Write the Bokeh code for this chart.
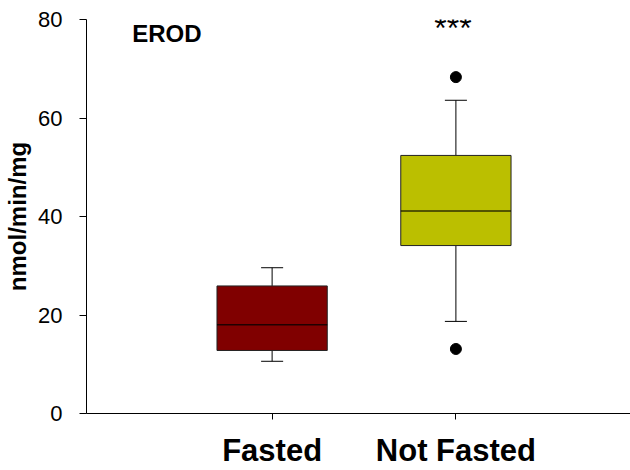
from bokeh.plotting import figure
from bokeh.models import FixedTicker, Range1d, Label
from bokeh.embed import file_html
from bokeh.resources import INLINE

# ---- data ----
categories = ["Fasted", "Not Fasted"]
whisker_low = [10.6, 18.7]
q1 = [12.8, 34.1]
median = [18.0, 41.1]
q3 = [25.9, 52.4]
whisker_high = [29.6, 63.6]
box_colors = ["#800000", "#BBBF00"]
outlier_group = ["Not Fasted", "Not Fasted"]
outlier_values = [68.3, 13.1]
y_ticks = [0, 20, 40, 60, 80]
panel_title = "EROD"
significance = "***"
significance_group = "Not Fasted"
y_label = "nmol/min/mg"

FONT = "Liberation Sans"
xs = [i + 1 for i in range(len(categories))]
pos = {c: x for c, x in zip(categories, xs)}

p = figure(width=630, height=470, output_backend="svg", toolbar_location=None,
           x_range=Range1d(-0.01, 2.95), y_range=Range1d(0, 80),
           min_border_left=86, min_border_right=0, min_border_top=19, min_border_bottom=55)
p.outline_line_color = None
p.xgrid.visible = False
p.ygrid.visible = False
p.background_fill_color = "white"
p.border_fill_color = "white"

bw = 0.3
cw = 0.06
# whiskers
p.segment(x0=xs, y0=whisker_low, x1=xs, y1=q1, line_color="black", line_width=1)
p.segment(x0=xs, y0=q3, x1=xs, y1=whisker_high, line_color="black", line_width=1)
p.segment(x0=[x - cw for x in xs], y0=whisker_low, x1=[x + cw for x in xs], y1=whisker_low,
          line_color="black", line_width=1)
p.segment(x0=[x - cw for x in xs], y0=whisker_high, x1=[x + cw for x in xs], y1=whisker_high,
          line_color="black", line_width=1)
# boxes
p.quad(left=[x - bw for x in xs], right=[x + bw for x in xs], bottom=q1, top=q3,
       fill_color=box_colors, line_color="#222222", line_width=1)
# medians
p.segment(x0=[x - bw for x in xs], y0=median, x1=[x + bw for x in xs], y1=median,
          line_color="black", line_width=1.5, line_alpha=0.75)
# outliers
p.scatter(x=[pos[g] for g in outlier_group], y=outlier_values, size=11,
          fill_color="black", line_color="black")

# axes
p.yaxis.ticker = FixedTicker(ticks=y_ticks)
p.yaxis.minor_tick_line_color = None
p.yaxis.major_tick_in = 0
p.yaxis.major_tick_out = 7
p.yaxis.major_label_standoff = 17
p.yaxis.major_label_text_font = FONT
p.yaxis.major_label_text_font_size = "22px"
p.yaxis.major_label_text_color = "black"
p.yaxis.axis_line_color = "black"
p.yaxis.major_tick_line_color = "black"
p.yaxis.axis_label = y_label
p.yaxis.axis_label_text_font = FONT
p.yaxis.axis_label_text_font_style = "bold"
p.yaxis.axis_label_text_font_size = "24px"
p.yaxis.axis_label_text_color = "black"
p.yaxis.axis_label_standoff = 4

p.xaxis.ticker = FixedTicker(ticks=xs)
p.xaxis.major_label_overrides = {x: c for x, c in zip(xs, categories)}
p.xaxis.minor_tick_line_color = None
p.xaxis.major_tick_in = 0
p.xaxis.major_tick_out = 6
p.xaxis.major_label_standoff = 13
p.xaxis.major_label_text_font = FONT
p.xaxis.major_label_text_font_style = "bold"
p.xaxis.major_label_text_font_size = "31px"
p.xaxis.major_label_text_color = "black"
p.xaxis.axis_line_color = "black"
p.xaxis.major_tick_line_color = "black"

p.add_layout(Label(x=0.25, y=80, y_offset=0, x_offset=-2, text=panel_title, text_font=FONT,
                   text_font_style="bold", text_font_size="24px", text_baseline="top",
                   text_align="left", text_color="black"))
p.add_layout(Label(x=pos[significance_group], y=80, y_offset=10, x_offset=-3, text=significance,
                   text_font=FONT, text_font_size="32px", text_baseline="top",
                   text_align="center", text_color="black"))

open("out.html", "w").write(file_html(p, INLINE))
